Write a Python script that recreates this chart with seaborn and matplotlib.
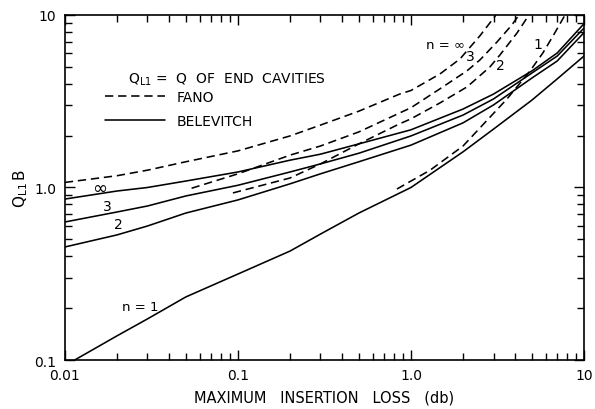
import numpy as np
import pandas as pd
import matplotlib
matplotlib.use("Agg")
import matplotlib.pyplot as plt
from matplotlib.lines import Line2D
from matplotlib.ticker import FixedLocator, FixedFormatter, NullFormatter
import seaborn as sns

# ---- data (x = max insertion loss in dB, y = Q_L1 B) ----
# Belevitch (solid)
bel_x = [0.01, 0.02, 0.03, 0.05, 0.1, 0.2, 0.3, 0.5, 1.0, 2.0, 3.0, 5.0, 7.0, 10.0]
bel_inf_y = [0.857, 0.954, 1.0, 1.09, 1.23, 1.44, 1.56, 1.79, 2.16, 2.85, 3.48, 4.74, 6.02, 8.9]
bel_3_y = [0.631, 0.721, 0.781, 0.893, 1.03, 1.23, 1.37, 1.58, 1.99, 2.63, 3.26, 4.61, 5.78, 8.4]
bel_2_y = [0.452, 0.531, 0.598, 0.711, 0.847, 1.05, 1.2, 1.41, 1.76, 2.37, 3.01, 4.31, 5.41, 7.9]
bel_1_x = [0.0114, 0.02, 0.03, 0.05, 0.1, 0.2, 0.3, 0.5, 1.0, 2.0, 3.0, 5.0, 7.0, 10.0]
bel_1_y = [0.1, 0.138, 0.173, 0.232, 0.315, 0.428, 0.537, 0.711, 1.0, 1.61, 2.18, 3.21, 4.26, 5.78]

# Fano (dashed)
fano_inf_x = [0.01, 0.02, 0.03, 0.05, 0.1, 0.2, 0.3, 0.5, 0.86, 1.0, 1.47, 1.92, 2.51, 3.1]
fano_inf_y = [1.07, 1.17, 1.26, 1.41, 1.63, 1.99, 2.3, 2.77, 3.48, 3.65, 4.55, 5.56, 7.6, 10.0]
fano_3_x = [0.054, 0.1, 0.2, 0.3, 0.5, 1.0, 1.47, 2.11, 2.51, 3.14, 3.83, 4.21]
fano_3_y = [0.99, 1.2, 1.54, 1.74, 2.1, 2.9, 3.73, 4.75, 5.5, 6.97, 8.75, 10.0]
fano_2_x = [0.0936, 0.2, 0.3, 0.5, 0.86, 1.0, 1.47, 2.11, 2.86, 3.27, 4.1, 4.81]
fano_2_y = [0.93, 1.135, 1.37, 1.79, 2.34, 2.5, 3.09, 3.83, 5.0, 5.87, 7.86, 10.0]
fano_1_x = [0.83, 1.29, 2.0, 3.59, 4.87, 5.79, 6.62, 7.77]
fano_1_y = [0.98, 1.26, 1.74, 3.26, 4.73, 6.03, 7.55, 10.0]

x_ticks = [0.01, 0.1, 1.0, 10.0]
x_tick_labels = ["0.01", "0.1", "1.0", "10"]
y_ticks = [0.1, 1.0, 10.0]
y_tick_labels = ["0.1", "1.0", "10"]

# curve labels: (text, x, y, fontsize)
curve_labels = [
    ("\u221e", 0.0159, 0.995, 13),
    ("3", 0.0177, 0.78, 10),
    ("2", 0.0205, 0.614, 10),
    ("n = 1", 0.0272, 0.203, 9.5),
    ("n = \u221e", 1.59, 6.7, 9.5),
    ("3", 2.19, 5.78, 10),
    ("2", 3.27, 5.13, 10),
    ("1", 5.42, 6.8, 10),
]

sns.set_style("ticks")
plt.rcParams["font.family"] = ["DejaVu Sans"]
plt.rcParams["text.color"] = "black"
plt.rcParams["axes.labelcolor"] = "black"
plt.rcParams["xtick.color"] = "black"
plt.rcParams["ytick.color"] = "black"

fig = plt.figure(figsize=(5.95, 4.10), dpi=100)
ax = fig.add_axes([0.109, 0.1195, 0.8725, 0.8415])

LW = 1.15
DASH = (0, (5.2, 3.0))

solid_sets = [(bel_x, bel_inf_y), (bel_x, bel_3_y), (bel_x, bel_2_y), (bel_1_x, bel_1_y)]
dashed_sets = [(fano_inf_x, fano_inf_y), (fano_3_x, fano_3_y), (fano_2_x, fano_2_y), (fano_1_x, fano_1_y)]

for xs, ys in solid_sets:
    df = pd.DataFrame({"loss": xs, "q": ys})
    sns.lineplot(data=df, x="loss", y="q", ax=ax, color="black", lw=LW, sort=False)
for xs, ys in dashed_sets:
    df = pd.DataFrame({"loss": xs, "q": ys})
    sns.lineplot(data=df, x="loss", y="q", ax=ax, color="black", lw=LW, sort=False,
                 linestyle=DASH)

ax.set_xscale("log")
ax.set_yscale("log")
ax.set_xlim(0.01, 10)
ax.set_ylim(0.1, 10)

ax.xaxis.set_major_locator(FixedLocator(x_ticks))
ax.xaxis.set_major_formatter(FixedFormatter(x_tick_labels))
ax.yaxis.set_major_locator(FixedLocator(y_ticks))
ax.yaxis.set_major_formatter(FixedFormatter(y_tick_labels))
ax.xaxis.set_minor_formatter(NullFormatter())
ax.yaxis.set_minor_formatter(NullFormatter())

ax.tick_params(which="both", direction="in", top=True, right=True, width=1.0,
               labelsize=10, colors="black")
ax.tick_params(which="major", length=7, pad=6)
ax.tick_params(which="minor", length=5)
for s in ax.spines.values():
    s.set_linewidth(1.2)
    s.set_color("black")

ax.set_xlabel("MAXIMUM   INSERTION   LOSS   (db)", fontsize=10.5, labelpad=5, color="black")
ax.set_ylabel("$\\mathregular{Q_{L1}\\,B}$", fontsize=11, labelpad=3, color="black")

for txt, tx, ty, fs in curve_labels:
    ax.text(tx, ty, txt, fontsize=fs, ha="center", va="center", color="black")

ax.text(0.121, 0.814, "$\\mathregular{Q_{L1}}$ =  Q  OF  END  CAVITIES", transform=ax.transAxes,
        fontsize=10, ha="left", va="center", color="black")

handles = [Line2D([], [], color="black", lw=LW, linestyle=DASH),
           Line2D([], [], color="black", lw=LW)]
leg = ax.legend(handles, ["FANO", "BELEVITCH"], loc="upper left",
                bbox_to_anchor=(0.077, 0.783), frameon=False, fontsize=10,
                handlelength=4.3, handletextpad=0.86, labelspacing=0.7,
                borderaxespad=0.0, borderpad=0.0, labelcolor="black")

fig.savefig("out.png", dpi=100)
